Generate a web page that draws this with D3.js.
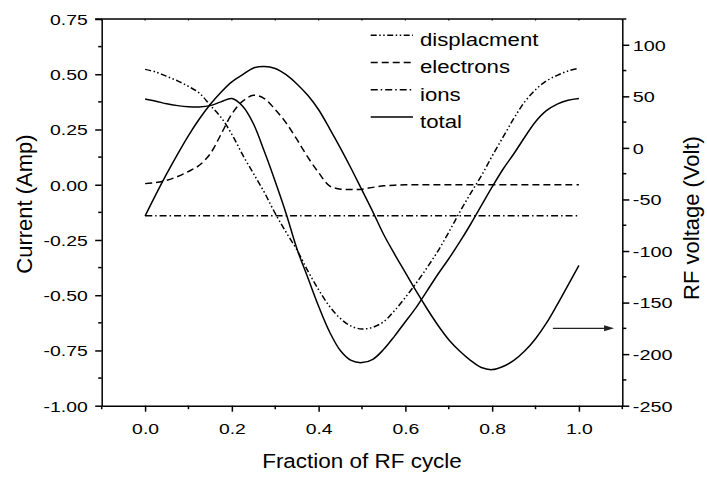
<!DOCTYPE html>
<html>
<head>
<meta charset="utf-8">
<script src="https://cdn.jsdelivr.net/npm/d3@7"></script>
<style>
	body { margin: 0; background: #fff; }
	svg { display: block; font-family: "Liberation Sans", Arial, sans-serif; }
</style>
</head>
<body>
<div id="vis"></div>
<script>
// values, one entry per grid point of the RF cycle
var fraction = [0, 0.025, 0.05, 0.075, 0.1, 0.125, 0.15, 0.175, 0.2, 0.225, 0.25, 0.275, 0.3, 0.325, 0.35, 0.375, 0.4,
	0.425, 0.45, 0.475, 0.5, 0.525, 0.55, 0.575, 0.6, 0.625, 0.65, 0.675, 0.7, 0.725, 0.75, 0.775, 0.8, 0.825, 0.85,
	0.875, 0.9, 0.925, 0.95, 0.975, 1.0];

var displacement = [0.522, 0.51, 0.49, 0.47, 0.445, 0.415, 0.36, 0.305, 0.228, 0.135, 0.05, -0.035, -0.13, -0.215,
	-0.295, -0.39, -0.475, -0.55, -0.605, -0.64, -0.653, -0.645, -0.62, -0.57, -0.51, -0.445, -0.375, -0.3, -0.215,
	-0.125, -0.04, 0.04, 0.13, 0.215, 0.3, 0.375, 0.43, 0.47, 0.495, 0.515, 0.527];

var electrons = [0.005, 0.01, 0.02, 0.037, 0.06, 0.088, 0.14, 0.228, 0.32, 0.378, 0.405, 0.39, 0.34, 0.28, 0.205,
	0.125, 0.055, -0.005, -0.02, -0.022, -0.02, -0.012, -0.005, -0.002, 0, 0, 0, 0, 0, 0, 0, 0, 0, 0, 0, 0, 0, 0, 0, 0, 0];

var ions = [-0.14, -0.14, -0.14, -0.14, -0.14, -0.14, -0.14, -0.14, -0.14, -0.14, -0.14, -0.14, -0.14, -0.14, -0.14,
	-0.14, -0.14, -0.14, -0.14, -0.14, -0.14, -0.14, -0.14, -0.14, -0.14, -0.14, -0.14, -0.14, -0.14, -0.14, -0.14,
	-0.14, -0.14, -0.14, -0.14, -0.14, -0.14, -0.14, -0.14, -0.14, -0.14];

var total = [0.388, 0.378, 0.366, 0.358, 0.353, 0.352, 0.358, 0.375, 0.39, 0.355, 0.275, 0.15, 0.015, -0.13, -0.29,
	-0.42, -0.55, -0.665, -0.75, -0.795, -0.805, -0.79, -0.745, -0.685, -0.62, -0.555, -0.48, -0.405, -0.335, -0.26,
	-0.18, -0.095, -0.01, 0.07, 0.14, 0.215, 0.285, 0.335, 0.365, 0.382, 0.39];

// RF voltage goes on the right axis (Volt)
var rfVoltage = [-66, -45, -25, -6, 12, 28, 42, 54, 64, 71, 77.5, 79, 77, 71, 62, 51, 37, 19, 0, -20, -41, -62, -84,
	-103, -121, -139, -156, -172, -186, -197, -206, -213, -215, -212, -206, -197, -185, -170, -152, -133, -114];

var legendLabels = ['displacment', 'electrons', 'ions', 'total'];

var xTicks = [0.0, 0.2, 0.4, 0.6, 0.8, 1.0];
var xMinorTicks = [-0.1, 0.1, 0.3, 0.5, 0.7, 0.9, 1.1];
var leftTicks = [0.75, 0.5, 0.25, 0, -0.25, -0.5, -0.75, -1.0];
var leftMinorTicks = [0.625, 0.375, 0.125, -0.125, -0.375, -0.625, -0.875];
var rightTicks = [100, 50, 0, -50, -100, -150, -200, -250];
var rightMinorTicks = [125, 75, 25, -25, -75, -125, -175, -225];

var width = 707,
	height = 483;
var margin = { top: 19, left: 101.7, bottom: 77.3, right: 84.7 };

var svg = d3.select('#vis').append('svg').attr('width', width).attr('height', height);
svg.append('rect').attr('width', width).attr('height', height).attr('fill', '#fff');

var x = d3.scaleLinear().domain([ -0.1, 1.1 ]).range([ margin.left, width - margin.right ]);
var yLeft = d3.scaleLinear().domain([ -1.0, 0.75 ]).range([ height - margin.bottom, margin.top ]);
var yRight = d3.scaleLinear().domain([ -250, 125 ]).range([ height - margin.bottom, margin.top ]);

var x0 = x.range()[0],
	x1 = x.range()[1],
	yTop = yLeft.range()[1],
	yBot = yLeft.range()[0];

// stretch text sideways a little, the original labels are wider than tall
function widen(sel, sx, dx, dy) {
	sel.attr('x', 0).attr('y', 0).attr('dy', null).attr('transform', 'translate(' + dx + ',' + dy + ') scale(' + sx + ',1)');
}

function styleAxis(g) {
	g.select('.domain').attr('stroke', '#000').attr('stroke-width', 1.5);
	g.selectAll('.tick line').attr('stroke', '#000').attr('stroke-width', 1.5);
	g.selectAll('.tick text').attr('fill', '#000').style('font-size', '15.5px');
}

// bottom axis
var gx = svg
	.append('g')
	.attr('transform', 'translate(0,' + yBot + ')')
	.call(d3.axisBottom(x).tickValues(xTicks).tickSize(6).tickSizeOuter(0).tickFormat(function(d) {
		return d.toFixed(1);
	}));
styleAxis(gx);
gx.selectAll('.tick text').each(function() {
	widen(d3.select(this), 1.25, 0, 28.6);
});
gx.selectAll('.minor').data(xMinorTicks).enter().append('line')
	.attr('x1', function(d) { return x(d); })
	.attr('x2', function(d) { return x(d); })
	.attr('y1', 0).attr('y2', 3.5)
	.attr('stroke', '#000').attr('stroke-width', 1.5);

// top border with tiny ticks
svg.append('line').attr('x1', x0 - 6.5).attr('x2', x1).attr('y1', yTop).attr('y2', yTop)
	.attr('stroke', '#000').attr('stroke-width', 1.5);
svg.selectAll('.top-tick').data(xTicks.concat(xMinorTicks)).enter().append('line')
	.attr('x1', function(d) { return x(d); })
	.attr('x2', function(d) { return x(d); })
	.attr('y1', yTop).attr('y2', yTop + 1.5)
	.attr('stroke', '#000').attr('stroke-width', 1.2);

// left axis (Amp)
var gl = svg
	.append('g')
	.attr('transform', 'translate(' + x0 + ',0)')
	.call(d3.axisLeft(yLeft).tickValues(leftTicks).tickSize(6.5).tickSizeOuter(0).tickFormat(function(d) {
		return d.toFixed(2);
	}));
styleAxis(gl);
gl.selectAll('.tick text').each(function() {
	widen(d3.select(this), 1.25, -14, 5.3);
});
gl.selectAll('.minor').data(leftMinorTicks).enter().append('line')
	.attr('y1', function(d) { return yLeft(d); })
	.attr('y2', function(d) { return yLeft(d); })
	.attr('x1', 0).attr('x2', -3.5)
	.attr('stroke', '#000').attr('stroke-width', 1.5);

// right axis (Volt)
var gr = svg
	.append('g')
	.attr('transform', 'translate(' + x1 + ',0)')
	.call(d3.axisRight(yRight).tickValues(rightTicks).tickSize(7).tickSizeOuter(0).tickFormat(function(d) {
		return String(d);
	}));
styleAxis(gr);
gr.selectAll('.tick text').each(function() {
	widen(d3.select(this), 1.28, 10.5, 5.3);
});
gr.selectAll('.minor').data(rightMinorTicks).enter().append('line')
	.attr('y1', function(d) { return yRight(d); })
	.attr('y2', function(d) { return yRight(d); })
	.attr('x1', 0).attr('x2', 4)
	.attr('stroke', '#000').attr('stroke-width', 1.5);

// axis titles
svg.append('text')
	.attr('transform', 'translate(' + (x0 + x1) / 2 + ',468) scale(1.07,1)')
	.attr('text-anchor', 'middle')
	.style('font-size', '21px')
	.text('Fraction of RF cycle');

svg.append('text')
	.attr('transform', 'translate(31.5,204) rotate(-90)')
	.attr('text-anchor', 'middle')
	.style('font-size', '22px')
	.text('Current (Amp)');

svg.append('text')
	.attr('transform', 'translate(699,218) rotate(-90)')
	.attr('text-anchor', 'middle')
	.style('font-size', '22px')
	.text('RF voltage (Volt)');

// curves
var series = [
	{ name: legendLabels[0], values: displacement, y: yLeft, dash: '6,2.5,1.5,2.5,1.5,2.5' },
	{ name: legendLabels[1], values: electrons, y: yLeft, dash: '7,4' },
	{ name: legendLabels[2], values: ions, y: yLeft, dash: '7,3,1.5,3' },
	{ name: legendLabels[3], values: total, y: yLeft, dash: null },
	{ name: 'rf', values: rfVoltage, y: yRight, dash: null }
];

series.forEach(function(s) {
	var line = d3
		.line()
		.x(function(d, i) { return x(fraction[i]); })
		.y(function(d) { return s.y(d); })
		.curve(d3.curveCatmullRom);
	svg.append('path')
		.datum(s.values)
		.attr('d', line)
		.attr('fill', 'none')
		.attr('stroke', '#000')
		.attr('stroke-width', 1.5)
		.attr('stroke-dasharray', s.dash);
});

// arrow pointing the voltage curve to the right axis
var arrowY = yRight(-175);
svg.append('line')
	.attr('x1', x(0.94)).attr('x2', x(1.06))
	.attr('y1', arrowY).attr('y2', arrowY)
	.attr('stroke', '#222').attr('stroke-width', 1.3);
svg.append('path')
	.attr('d', 'M' + x(1.058) + ',' + (arrowY - 3) + 'L' + x(1.081) + ',' + arrowY + 'L' + x(1.058) + ',' + (arrowY + 3) + 'Z')
	.attr('fill', '#222');

// legend
var legend = svg.append('g').attr('class', 'legend');
var rows = legend.selectAll('g').data(series.slice(0, 4)).enter().append('g')
	.attr('transform', function(d, i) { return 'translate(0,' + (35.3 + i * 27.2) + ')'; });
rows.append('line')
	.attr('x1', 370.7).attr('x2', 413)
	.attr('y1', 0).attr('y2', 0)
	.attr('stroke', '#000').attr('stroke-width', 1.5)
	.attr('stroke-dasharray', function(d) { return d.dash; });
rows.append('text')
	.attr('transform', 'translate(420,10.8) scale(1.2,1)')
	.style('font-size', '18.5px')
	.text(function(d) { return d.name; });
</script>
</body>
</html>
